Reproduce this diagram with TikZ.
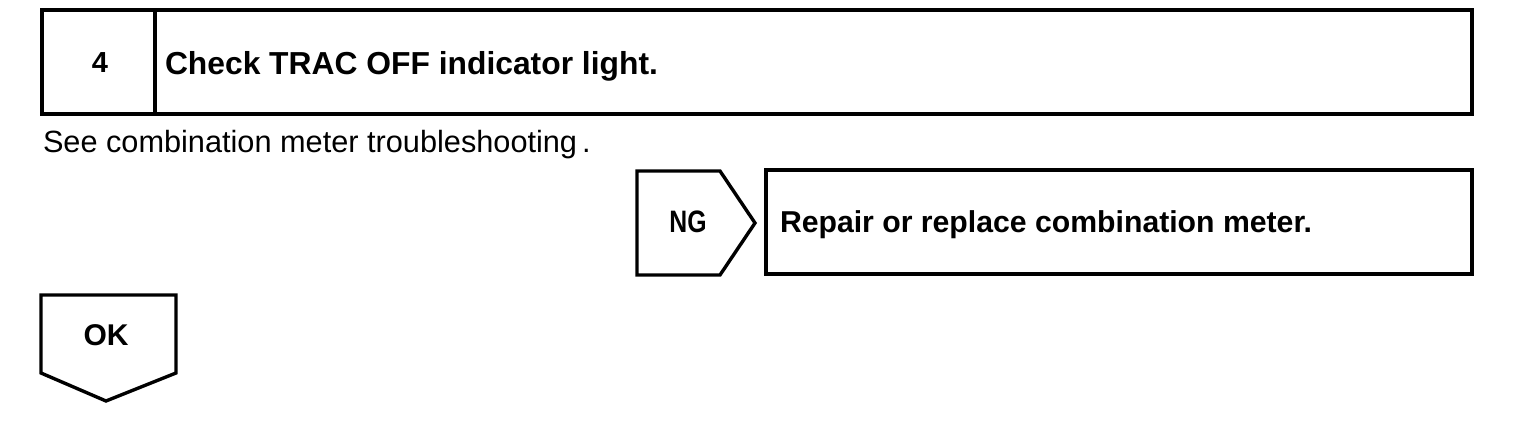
\documentclass[tikz,border=0pt]{standalone}
\usepackage{fontspec}
\setmainfont{Liberation Sans}
\begin{document}
\begin{tikzpicture}[x=0.5pt,y=-0.5pt,
  frame/.style={draw=black,line width=1.7pt,line join=miter},
  txt/.style={inner sep=0pt,outer sep=0pt,text=black},
  boldtxt/.style={txt,font=\bfseries}]
\useasboundingbox (0,0) rectangle (1536,438);
% top step box
\draw[frame] (42,10) rectangle (1472,114);
\draw[frame] (155,10) -- (155,114);
\node[boldtxt,anchor=base,font=\fontsize{14.5}{16}\selectfont\bfseries] (num) at (100,73) {4};
\node[boldtxt,anchor=base west,font=\fontsize{15.9}{18}\selectfont\bfseries] (title) at (165,75) {Check TRAC OFF indicator light.};
% note
\node[txt,anchor=base west,font=\fontsize{15.35}{18}\selectfont] (note) at (43,153) {See combination meter troubleshooting\,.};
% NG tag
\coordinate (ng1) at (637,171);
\coordinate (ng2) at (720,171);
\coordinate (ng3) at (755,223);
\coordinate (ng4) at (720,275);
\coordinate (ng5) at (637,275);
\draw[frame] (ng1) -- (ng2) -- (ng3) -- (ng4) -- (ng5) -- cycle;
\node[boldtxt,anchor=base,font=\fontsize{15.5}{18}\selectfont\bfseries] (ng) at (688,233) {\scalebox{0.8}[1]{NG}};
% repair box
\draw[frame] (766,170) rectangle (1472,274);
\node[boldtxt,anchor=base west,font=\fontsize{15.1}{18}\selectfont\bfseries] (repair) at (780,233) {Repair or replace combination meter.};
% OK tag
\coordinate (ok1) at (41,295);
\coordinate (ok2) at (176,295);
\coordinate (ok3) at (176,373);
\coordinate (ok4) at (106,401);
\coordinate (ok5) at (41,373);
\draw[frame] (ok1) -- (ok2) -- (ok3) -- (ok4) -- (ok5) -- cycle;
\node[boldtxt,anchor=base,font=\fontsize{15}{18}\selectfont\bfseries] (ok) at (106,345) {OK};
\end{tikzpicture}
\end{document}
